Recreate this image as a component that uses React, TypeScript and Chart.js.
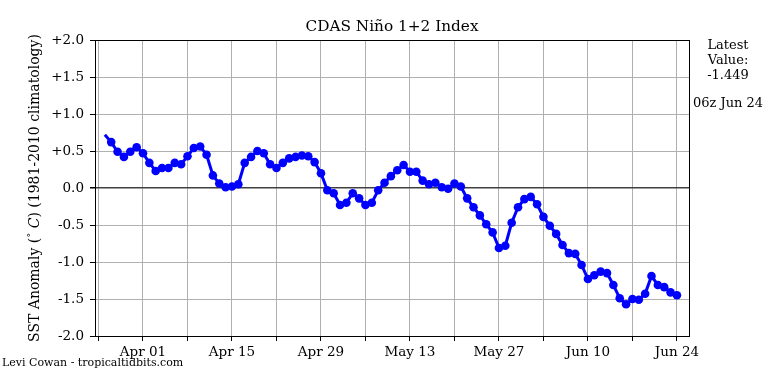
import React, { useEffect, useRef } from 'react';
import { Chart, registerables } from 'chart.js';

Chart.register(...registerables);

// Days relative to Apr 01 (day 0); one value per day
const startDay = -6;
const values: number[] = [
  0.72, 0.62, 0.49, 0.42, 0.49, 0.55, 0.47, 0.34, 0.23, 0.27,
  0.27, 0.34, 0.32, 0.43, 0.54, 0.56, 0.45, 0.17, 0.06, 0.01,
  0.02, 0.05, 0.34, 0.42, 0.50, 0.47, 0.32, 0.27, 0.34, 0.40,
  0.42, 0.44, 0.43, 0.35, 0.20, -0.03, -0.07, -0.23, -0.20, -0.07,
  -0.14, -0.23, -0.20, -0.03, 0.07, 0.16, 0.24, 0.31, 0.22, 0.22,
  0.10, 0.05, 0.07, 0.01, -0.01, 0.06, 0.02, -0.14, -0.26, -0.37,
  -0.49, -0.60, -0.81, -0.78, -0.47, -0.26, -0.15, -0.12, -0.22, -0.39,
  -0.51, -0.62, -0.77, -0.88, -0.89, -1.04, -1.23, -1.18, -1.13, -1.15,
  -1.31, -1.49, -1.57, -1.50, -1.51, -1.43, -1.19, -1.31, -1.34, -1.41,
  -1.449,
];
const tickDays: number[] = [-7, 0, 7, 14, 21, 28, 35, 42, 49, 56, 63, 70, 77, 84];
const tickLabels: string[] = ['', 'Apr 01', '', 'Apr 15', '', 'Apr 29', '', 'May 13', '', 'May 27', '', 'Jun 10', '', 'Jun 24'];
const yTicks: number[] = [-2, -1.5, -1, -0.5, 0, 0.5, 1, 1.5, 2];
const xMin = -7.55;
const xMax = 85.9;
const titleText = 'CDAS Niño 1+2 Index';
const latestLines: string[] = ['Latest', 'Value:', '-1.449'];
const latestTime = '06z Jun 24';
const footerText = 'Levi Cowan - tropicaltidbits.com';

const FONT = '"DejaVu Serif", serif';

export default function App() {
  const ref = useRef<HTMLCanvasElement>(null);
  useEffect(() => {
    if (!ref.current) return;
    const points = values.map((v, i) => ({ x: startDay + i, y: v }));
    const radii = values.map((_, i) => (i === 0 ? 0 : 4.3));

    const textPlugin = {
      id: 'texts',
      afterDatasetsDraw(chart: any) {
        const ctx = chart.ctx as CanvasRenderingContext2D;
        const a = chart.chartArea;
        ctx.save();
        ctx.strokeStyle = '#000';
        ctx.lineWidth = 1;
        ctx.strokeRect(Math.round(a.left) + 0.5, Math.round(a.top) + 0.5, Math.round(a.right - a.left), Math.round(a.bottom - a.top));
        ctx.restore();
      },
      afterDraw(chart: any) {
        const ctx = chart.ctx as CanvasRenderingContext2D;
        const a = chart.chartArea;
        ctx.save();
        ctx.fillStyle = '#000';
        ctx.textBaseline = 'middle';
        // title
        ctx.font = `15.3px ${FONT}`;
        ctx.textAlign = 'center';
        ctx.fillText(titleText, (a.left + a.right) / 2, 27);
        // right side
        ctx.font = `13px ${FONT}`;
        latestLines.forEach((t, i) => ctx.fillText(t, 728, 46 + i * 15));
        ctx.fillText(latestTime, 728, 104);
        // footer
        ctx.font = `11px ${FONT}`;
        ctx.textAlign = 'left';
        ctx.fillText(footerText, 2, 363);
        // y label
        const segs = [
          { t: 'SST Anomaly (', f: `14px ${FONT}`, dy: 0 },
          { t: '°', f: `10px ${FONT}`, dy: -4 },
          { t: ' C', f: `italic 14px ${FONT}`, dy: 0 },
          { t: ') (1981-2010 climatology)', f: `14px ${FONT}`, dy: 0 },
        ];
        let total = 0;
        segs.forEach((s) => { ctx.font = s.f; total += ctx.measureText(s.t).width; });
        ctx.translate(35, (a.top + a.bottom) / 2);
        ctx.rotate(-Math.PI / 2);
        let x = -total / 2;
        segs.forEach((s) => {
          ctx.font = s.f;
          ctx.fillText(s.t, x, s.dy);
          x += ctx.measureText(s.t).width;
        });
        ctx.restore();
      },
    };

    const chart = new Chart(ref.current, {
      type: 'line',
      data: {
        datasets: [
          {
            data: points,
            borderColor: '#0000ff',
            backgroundColor: '#0000ff',
            borderWidth: 3,
            pointRadius: radii,
            pointBorderWidth: 0,
            pointBackgroundColor: '#0000ff',
            tension: 0,
          },
        ],
      },
      options: {
        animation: false,
        responsive: false,
        layout: { padding: { left: 0, right: 76, top: 40, bottom: 0 } },
        plugins: { legend: { display: false }, tooltip: { enabled: false }, title: { display: false } },
        scales: {
          x: {
            type: 'linear',
            min: xMin,
            max: xMax,
            afterFit(s: any) { s.height = 38; },
            afterBuildTicks(s: any) { s.ticks = tickDays.map((v) => ({ value: v })); },
            ticks: {
              autoSkip: false,
              maxRotation: 0,
              padding: 3,
              color: '#000',
              font: { family: FONT, size: 13.5 },
              callback: (v: any) => {
                const i = tickDays.indexOf(Number(v));
                return i >= 0 ? tickLabels[i] : '';
              },
            },
            grid: { color: '#b0b0b0', lineWidth: 1, tickColor: '#000', tickLength: 5, drawTicks: true },
            border: { display: false },
          },
          y: {
            type: 'linear',
            min: -2,
            max: 2,
            afterFit(s: any) { s.width = 95; },
            afterBuildTicks(s: any) { s.ticks = yTicks.map((v) => ({ value: v })); },
            ticks: {
              padding: 6,
              color: '#000',
              font: { family: FONT, size: 13.5 },
              callback: (v: any) => (Number(v) > 0 ? '+' : '') + Number(v).toFixed(1),
            },
            grid: {
              color: (c: any) => (c.tick && c.tick.value === 0 ? '#404040' : '#b0b0b0'),
              lineWidth: (c: any) => (c.tick && c.tick.value === 0 ? 1.5 : 1),
              tickColor: '#000',
              tickLength: 5,
              drawTicks: true,
            },
            border: { display: false },
          },
        },
      },
      plugins: [textPlugin],
    });
    return () => chart.destroy();
  }, []);
  return (
    <div style={{ position: 'absolute', left: 0, top: 0, width: 765, height: 374, background: '#fff' }}>
      <canvas ref={ref} width={765} height={374} />
    </div>
  );
}
